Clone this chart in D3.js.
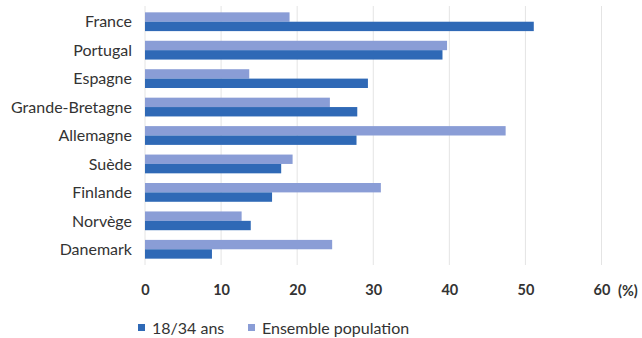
<!DOCTYPE html>
<html>
<head>
<meta charset="utf-8">
<script src="https://d3js.org/d3.v7.min.js"></script>
<style>
  body { margin: 0; background: #fff; }
  text { font-family: Lato, "Open Sans", sans-serif; fill: #333; }
</style>
</head>
<body>
<div id="graph"></div>
<script>
// data
var pays = ["France", "Portugal", "Espagne", "Grande-Bretagne", "Allemagne", "Suède", "Finlande", "Norvège", "Danemark"];
var jeunes = [51.1, 39.1, 29.3, 27.9, 27.8, 17.9, 16.7, 13.9, 8.8];        // 18/34 ans
var ensemble = [19.0, 39.7, 13.7, 24.3, 47.4, 19.4, 31.0, 12.7, 24.6];     // Ensemble population
var xTicks = [0, 10, 20, 30, 40, 50, 60];
var series = ["ensemble", "jeunes"];
var seriesLabels = ["18/34 ans", "Ensemble population"];

var colors = { jeunes: "#2f69b6", ensemble: "#8a9dd6" };

var svg = d3.select("#graph").append("svg")
  .attr("width", 642)
  .attr("height", 338);

var x = d3.scaleLinear().domain([0, 60]).range([145, 601.5]);
var y = d3.scaleBand().domain(pays).range([7.5, 263.5]).paddingInner(0.34).paddingOuter(0.17);
var ySub = d3.scaleBand().domain(series).range([0, y.bandwidth()]);

// gridlines
svg.append("g")
  .selectAll("line")
  .data(xTicks)
  .enter().append("line")
    .attr("x1", function(d) { return x(d); })
    .attr("x2", function(d) { return x(d); })
    .attr("y1", 6)
    .attr("y2", 265)
    .attr("stroke", "#e4e4e4")
    .attr("stroke-width", 1);

var rows = pays.map(function(p, i) { return { pays: p, jeunes: jeunes[i], ensemble: ensemble[i] }; });

// bars
var g = svg.append("g")
  .selectAll("g")
  .data(rows)
  .enter().append("g")
    .attr("transform", function(d) { return "translate(0," + y(d.pays) + ")"; });

g.selectAll("rect")
  .data(function(d) { return series.map(function(s) { return { key: s, value: d[s] }; }); })
  .enter().append("rect")
    .attr("x", x(0))
    .attr("y", function(d) { return ySub(d.key); })
    .attr("width", function(d) { return x(d.value) - x(0); })
    .attr("height", ySub.bandwidth())
    .attr("fill", function(d) { return colors[d.key]; });

// category labels
svg.append("g")
  .attr("transform", "translate(132,0)")
  .call(d3.axisLeft(y).tickSize(0).tickPadding(0))
  .call(function(a) { a.select(".domain").remove(); })
  .selectAll("text")
    .style("font-size", "16px")
    .attr("dy", "0.36em")
    .attr("fill", "#333");

// x axis labels
svg.append("g")
  .attr("transform", "translate(0,285)")
  .call(d3.axisBottom(x).tickValues(xTicks).tickSize(0).tickPadding(0).tickFormat(d3.format("d")))
  .call(function(a) { a.select(".domain").remove(); })
  .selectAll("text")
    .style("font-size", "14.5px")
    .style("font-weight", "bold")
    .attr("fill", "#333");

svg.append("text")
  .attr("x", 618)
  .attr("y", 295.5)
  .style("font-size", "14.5px")
  .style("font-weight", "bold")
  .text("(%)");

// legend
var legend = svg.append("g").attr("transform", "translate(138,324)");
var legendX = [0, 110];
var legendKeys = ["jeunes", "ensemble"];
legendKeys.forEach(function(k, i) {
  legend.append("rect")
    .attr("x", legendX[i])
    .attr("y", 0)
    .attr("width", 7)
    .attr("height", 7)
    .attr("fill", colors[k]);
  legend.append("text")
    .attr("x", legendX[i] + 14)
    .attr("y", 9.5)
    .style("font-size", "16px")
    .text(seriesLabels[i]);
});
</script>
</body>
</html>
